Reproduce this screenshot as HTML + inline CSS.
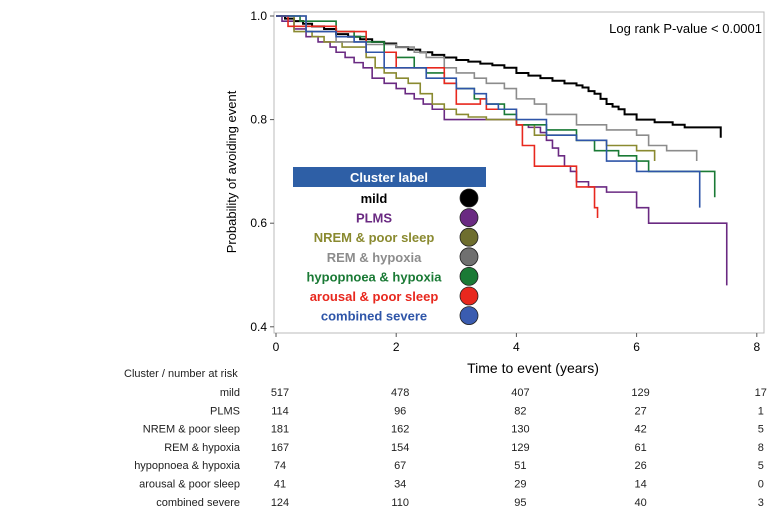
<!DOCTYPE html>
<html><head><meta charset="utf-8"><style>
body{margin:0;background:#fff;font-family:"Liberation Sans",sans-serif}
svg text{font-family:"Liberation Sans",sans-serif}
</style></head><body>
<svg id="c" width="778" height="513" xmlns="http://www.w3.org/2000/svg">
<rect x="274" y="12" width="490" height="321" fill="#fff" stroke="#bbb"/>
<text x="762" y="33" font-size="13" text-anchor="end">Log rank P-value &lt; 0.0001</text>
<text transform="translate(236,172) rotate(-90)" font-size="13" text-anchor="middle">Probability of avoiding event</text>
<text x="533" y="373" font-size="14" text-anchor="middle">Time to event (years)</text>
<g id="ax"></g><g id="lines"></g>
<rect x="293" y="167" width="193" height="20" fill="#2e5fa6"/>
<text x="389" y="182" font-size="13" font-weight="bold" fill="#fff" text-anchor="middle">Cluster label</text>
<g id="leg"></g>
<text x="124" y="377" font-size="11" fill="#222">Cluster / number at risk</text>
<g id="tbl"></g>
</svg>
<script>
const names=["mild","PLMS","NREM & poor sleep","REM & hypoxia","hypopnoea & hypoxia","arousal & poor sleep","combined severe"];
const colors=["#000","#6a2a82","#8a8a30","#8c8c8c","#1a7a35","#e8281e","#2e55a8"];
const fills=["#000","#6a2a82","#6e6e2e","#707070","#1a7a35","#e8281e","#3a5cb0"];
const tMild=[0,.15,.3,.45,.6,.8,1,1.2,1.4,1.6,1.8,2,2.2,2.4,2.6,2.8,3,3.2,3.4,3.6,3.8,4,4.2,4.4,4.6,4.8,5,5.1,5.2,5.3,5.4,5.5,5.6,5.7,5.8,6,6.3,6.6,6.8,7.4];
const sMild=[1,.995,.99,.985,.98,.975,.965,.96,.955,.95,.947,.94,.935,.93,.925,.92,.915,.912,.908,.905,.9,.89,.885,.88,.875,.87,.866,.862,.855,.85,.84,.83,.825,.82,.81,.80,.795,.79,.785,.765];
const tPLMS=[0,.1,.3,.5,.7,.9,1,1.15,1.3,1.45,1.6,1.8,2,2.15,2.3,2.45,2.6,2.8,4,4.2,4.4,4.5,4.6,4.7,4.8,4.9,5,5.2,5.5,6,6.2,7.5];
const sPLMS=[1,.99,.975,.96,.95,.94,.93,.92,.91,.9,.88,.87,.86,.85,.84,.83,.82,.80,.79,.785,.775,.76,.745,.73,.71,.7,.68,.67,.66,.63,.60,.48];
const tNREM=[0,.3,.6,.8,1.1,1.5,1.65,1.8,2,2.2,2.4,2.6,2.8,3,3.2,3.5,4,4.3,5,5.5,6,6.3];
const sNREM=[1,.97,.96,.95,.94,.92,.9,.89,.88,.87,.85,.83,.82,.81,.805,.80,.79,.77,.76,.75,.74,.72];
const tREM=[0,.5,1,1.5,2,2.3,2.5,2.8,3,3.3,3.5,3.8,4,4.3,4.5,5,5.5,6,6.2,6.5,7];
const sREM=[1,.97,.95,.945,.94,.93,.92,.9,.89,.88,.87,.86,.84,.83,.81,.79,.78,.77,.75,.74,.72];
const tHyp=[0,.4,1,1.3,1.5,1.8,2,2.3,2.5,2.8,3,3.3,3.5,3.8,4,4.5,5,5.3,5.7,6,6.2,7.3];
const sHyp=[1,.99,.97,.96,.95,.93,.92,.9,.89,.87,.86,.84,.83,.81,.79,.78,.76,.74,.73,.72,.70,.65];
const tAro=[0,.2,1,1.5,2,2.8,3,3.4,3.5,4,4.1,4.3,5,5.3,5.35];
const sAro=[1,.98,.97,.93,.90,.87,.83,.84,.82,.79,.75,.71,.67,.63,.61];
const tComb=[0,.5,1,1.3,1.5,1.8,2.5,3,3.3,3.5,3.7,4,4.5,5,5.5,6,7.05];
const sComb=[1,.97,.96,.95,.93,.90,.88,.86,.85,.83,.82,.80,.77,.76,.72,.70,.63];
const xTicks=[0,2,4,6,8];
const yTicks=[0.4,0.6,0.8,1.0];
const risk=[[517,478,407,129,17],[114,96,82,27,1],[181,162,130,42,5],[167,154,129,61,8],[74,67,51,26,5],[41,34,29,14,0],[124,110,95,40,3]];
const X=t=>276+t*60.1, Y=s=>16+(1-s)*518;
const ns="http://www.w3.org/2000/svg";
function mk(tag,attrs,parent,txt){const e=document.createElementNS(ns,tag);for(const k in attrs)e.setAttribute(k,attrs[k]);if(txt!==undefined)e.textContent=txt;parent.appendChild(e);return e;}
const ax=document.getElementById('ax');
xTicks.forEach(v=>{const l=mk('line',{x1:X(v),x2:X(v),y1:333,y2:337,stroke:'#555'},ax);

const t=mk('text',{x:X(v),y:351,'font-size':12,'text-anchor':'middle'},ax,v);
});
yTicks.forEach(v=>{const l=mk('line',{x1:270,x2:274,y1:Y(v),y2:Y(v),stroke:'#555'},ax);

const t=mk('text',{x:267,y:Y(v)+4,'font-size':12,'text-anchor':'end'},ax,v.toFixed(1));
});
const series=[[tMild,sMild],[tPLMS,sPLMS],[tNREM,sNREM],[tREM,sREM],[tHyp,sHyp],[tAro,sAro],[tComb,sComb]];
const lg=document.getElementById('lines');
series.forEach(([ts,ss],i)=>{let d=`M${X(ts[0])},${Y(ss[0])}`;
for(let k=1;k<ts.length;k++){d+=` H${X(ts[k])} V${Y(ss[k])}`;}
const p=mk('path',{d:d,fill:'none',stroke:colors[i],'stroke-width':i==0?2:1.6},lg);
});
const leg=document.getElementById('leg');
names.forEach((n,i)=>{const y=198+i*19.6;
const t=mk('text',{x:374,y:y+5,'font-size':13,'font-weight':'bold',fill:colors[i],'text-anchor':'middle'},leg,n);

const c=mk('circle',{cx:469,cy:y,r:9,fill:fills[i],stroke:'#222','stroke-width':0.8},leg);
});
const tb=document.getElementById('tbl');
names.forEach((n,i)=>{const y=396+i*18.3;
const t=mk('text',{x:240,y:y,'font-size':11,'text-anchor':'end',fill:'#222'},tb,n);

risk[i].forEach((v,j)=>{const c=mk('text',{x:X(xTicks[j])+4,y:y,'font-size':11,'text-anchor':'middle',fill:'#222'},tb,v);
});});
</script>
</body></html>
